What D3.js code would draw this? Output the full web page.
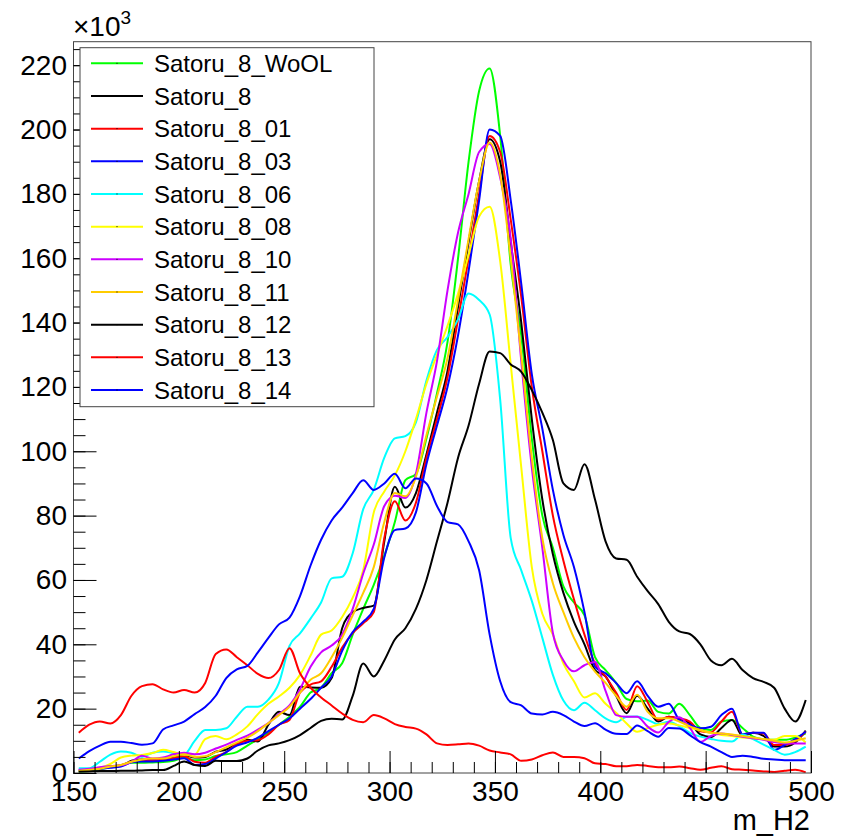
<!DOCTYPE html>
<html lang="en">
<head>
<meta charset="utf-8">
<title>m_H2 Satoru_8 variants</title>
<script src="https://cdn.jsdelivr.net/npm/d3@7"></script>
<style>
  body { margin: 0; background: #fff; }
  svg { display: block; font-family: "Liberation Sans", Arial, sans-serif; }
</style>
</head>
<body>
<svg width="850" height="838"></svg>
<script>
// bin centres of m_H2
var binCenters = [152.5,157.5,162.5,167.5,172.5,177.5,182.5,187.5,192.5,197.5,
  202.5,207.5,212.5,217.5,222.5,227.5,232.5,237.5,242.5,247.5,
  252.5,257.5,262.5,267.5,272.5,277.5,282.5,287.5,292.5,297.5,
  302.5,307.5,312.5,317.5,322.5,327.5,332.5,337.5,342.5,347.5,
  352.5,357.5,362.5,367.5,372.5,377.5,382.5,387.5,392.5,397.5,
  402.5,407.5,412.5,417.5,422.5,427.5,432.5,437.5,442.5,447.5,
  452.5,457.5,462.5,467.5,472.5,477.5,482.5,487.5,492.5,497.5];

var seriesNames = ["Satoru_8_WoOL","Satoru_8","Satoru_8_01","Satoru_8_03","Satoru_8_06",
  "Satoru_8_08","Satoru_8_10","Satoru_8_11","Satoru_8_12","Satoru_8_13","Satoru_8_14"];

// entries in units of 10^3
var wool = [0.3,0.6,1.2,1.8,2.4,3.2,3.2,3.3,3.4,3.8,
  4.8,4,4.2,5.3,5.8,6.5,8.5,10.5,12.5,15,
  17.5,20.6,25,26.5,31,34.1,43,51,58.5,67.5,
  78,91,93,104,118,134,160,190,212,219,
  198,158,136,104,80,70,58,53,49,36,
  32,28,23,22.3,22.5,19,18.5,21.5,18,14,
  13.4,16,16.5,14,11.3,10.5,10.3,10.3,11,12.3];
var s8 = [0.5,1,1.5,2,2.2,3.8,4.2,4,4.4,5,
  5.6,4.8,5,6.6,7.3,9,10.3,9.8,15,19,
  18,26.8,26.6,26.5,29.5,45,50,51.3,52,72,
  89,82.5,87,99,112,125,145,165,184,197,
  190,165,140,110,85,68,56,47,40,32,
  30,24,18.6,24,20,16,17.5,16.8,15.5,12,
  11.2,14,16.5,11.5,12.5,11.5,8.2,8.2,9.5,13.2];
var s8_01 = [1,1.2,1.6,2,2.4,3.5,4,4,4.2,4.6,
  5.2,3.5,3.2,5,6.5,9,10,10.2,12,15,
  16.5,25,27.5,28.5,33,39,43.5,46.5,50,73,
  84.5,78.5,84,98,110,123,141,160,180,198,
  193,172,148,120,100,80,66,54,43,34,
  30,25,19.6,27,22,16.5,17.5,17,16,13,
  12.7,16,19,12,12.5,12.3,8.7,8.7,10,12.8];
var s8_03 = [0.8,1,1.3,1.6,2,3.3,3.6,3.6,3.8,4.2,
  4.6,2.5,2.8,4.5,6.5,8.5,9.5,11,13,15,
  17,20,23,26.5,30,38,43.8,47,51,67,
  75.5,76,81,96,108,120,136,156,178,200,
  198,178,152,124,107,88,74,64,50,33,
  31,28,24.8,28.5,24,20.6,21.5,16.5,15,13.9,
  14.4,18,20,12,12.5,12.5,7.2,8.7,10.5,12.8];
var s8_06 = [1.5,1.5,3.5,5.7,6.7,6.3,5,6.3,6.7,6.2,
  5.8,10,13.4,13.4,13.9,17.5,20.6,20.6,22.8,28,
  39.5,43.4,48,53,60.5,61,68.3,82,88,98,
  104,104.7,109,122,131.5,135.5,141,149,147,142.5,
  116,73,63,53.5,42,30.5,22.5,19.5,21.8,19.5,
  17,15.8,17.5,17.6,16.5,15.2,15.9,14.5,12.5,11.3,
  10.6,10,9.8,12,10.5,8.8,7.2,5.7,6.5,8.2];
var s8_08 = [0.5,1,1.5,2.8,4.8,5.4,5.6,6.2,7.2,6.5,
  5.7,5.7,10.5,11.5,10.5,12,14.5,18.3,21.5,23.8,
  26.5,30.5,36.5,43,44.3,48.5,54.5,63,81,87.5,
  92.5,100,110,121,130,139,149,161,173,176,
  159,127,95,64,49.5,43,34,28.5,23.5,24.8,
  21.5,18.7,15.4,12.8,14,15,15.4,14.8,14,13.3,
  12.5,11.8,11.5,11,10.8,10.5,10.3,11.5,11.5,9.5];
var s8_10 = [1,1.3,1.8,2.2,2.4,3.5,5.4,4.5,4.8,5.8,
  6.3,5.8,6.3,7.6,8.8,10.3,11.6,13.5,15.5,18.3,
  21,26,33,37.5,39.6,43,51,62,71,83,
  86.2,85.5,93,112,128,150,168,180,193,195.5,
  185,166,128,95,70,43.5,35,31.6,33.5,34.5,
  25.5,18,17.5,17.5,14.4,12.6,15.9,17.3,14,9.7,
  11.5,12.3,11.8,11.3,10.8,10.3,9.6,9.2,9.2,9.2];
var s8_11 = [0.6,1,1.3,2,2.5,3.5,4.2,4.5,4.5,5.2,
  5.8,5,5.2,6.5,8,9.5,11,13,15.5,18,
  20.6,25,29,31,36,42,49,56,64,78,
  87,86,92,105,117,129,147,166,184,196,
  186,160,130,98,73,59,50,42,36,31.5,
  28,24,20.6,24.3,19,17,17,16,14.5,13.4,
  12.5,12.3,12,11.5,11,10.5,10,9.5,10,10.8];
var s8_12 = [0.4,0.5,0.6,0.6,0.7,0.7,0.8,0.9,0.9,2.2,
  3.6,2.5,2.2,3.8,3.7,3.7,4.5,7,8.6,9.2,
  10.2,11.8,14,16.2,16.9,16.6,24,34,30,35,
  41.5,45,51,60,72,84,98,108,121,131,
  130.5,127,124.7,119,112,103.5,90,88,96,85,
  72,66.7,66.3,61,56.5,52.5,47,44,43.2,40,
  35,33.5,35.5,32,29.5,28.3,26.5,20,16,22.7];
var s8_13 = [12.5,15,16,15.4,18,24,27,27.6,26,25,
  25.8,25,28,37,38.4,36,33.5,30.8,29.5,32,
  38.8,31,26.5,23.5,21,18.5,16.5,15.8,18,17,
  15.2,14.3,13.8,12,9.2,8.7,8.9,9.2,8.5,7,
  6.4,5.8,3.8,4.2,5.5,6.4,5,5,4.6,3,
  2.8,2.1,2.1,2.5,2.2,1.8,1.8,2,1.5,1,
  1.6,2.1,1.2,1,0.8,0.5,0.3,0.7,1,0.2];
var s8_14 = [4.5,6.8,8.5,9.7,9.7,9.3,8.8,9.2,13.5,14.8,
  16,18.3,20.5,24,29.5,32.2,33.3,37.5,42,46.2,
  48.3,55,64.5,72.5,78.5,82.5,87,91,88,90,
  93,88.5,91.5,90,83,78,77.3,72,63,43,
  28.5,22,21,18.5,18.2,19,18,16,14.6,15.5,
  13.5,12.2,12.1,14.8,13,11.3,14,13.8,11.8,9.6,
  8.2,6.5,5,5.4,5,4.4,4.2,4,4,4];

var seriesColors = ["#00ff00","#000000","#ff0000","#0000ff","#00ffff",
  "#ffff00","#cc00ff","#ffcc00","#000000","#ff0000","#0000ff"];

var allSeries = [wool, s8, s8_01, s8_03, s8_06, s8_08, s8_10, s8_11, s8_12, s8_13, s8_14];

var yTickLabels = [0,20,40,60,80,100,120,140,160,180,200,220];
var xTickLabels = [150,200,250,300,350,400,450,500];

var svg = d3.select("svg");
var frameLeft = 73.5, frameRight = 811, frameTop = 41.7, frameBottom = 773;

var xScale = d3.scaleLinear().domain([150, 500]).range([frameLeft, frameRight]);
var yScale = d3.scaleLinear().domain([0, 227.3]).range([frameBottom, frameTop]);

svg.append("defs").append("clipPath").attr("id", "frameClip")
  .append("rect")
  .attr("x", frameLeft).attr("y", frameTop)
  .attr("width", frameRight - frameLeft).attr("height", frameBottom - frameTop);

// curves
var line = d3.line()
  .x(function(d, i) { return xScale(binCenters[i]); })
  .y(function(d) { return yScale(d); })
  .curve(d3.curveMonotoneX);

var plot = svg.append("g").attr("clip-path", "url(#frameClip)");
allSeries.forEach(function(s, k) {
  plot.append("path")
    .attr("d", line(s))
    .attr("fill", "none")
    .attr("stroke", seriesColors[k])
    .attr("stroke-width", 2)
    .attr("stroke-linejoin", "round");
});

// frame
svg.append("rect")
  .attr("x", frameLeft).attr("y", frameTop)
  .attr("width", frameRight - frameLeft).attr("height", frameBottom - frameTop)
  .attr("fill", "none")
  .attr("stroke", "#444")
  .attr("stroke-width", 1);

// x axis
var xMajor = d3.axisBottom(xScale).tickValues(xTickLabels)
  .tickSize(-22).tickPadding(8).tickFormat(d3.format("d"));
var xMinor = d3.axisBottom(xScale).tickValues(d3.range(150, 501, 10))
  .tickSize(-11).tickFormat("");
svg.append("g").attr("transform", "translate(0," + frameBottom + ")").call(xMinor);
svg.append("g").attr("transform", "translate(0," + frameBottom + ")").call(xMajor);

// y axis
var yMajor = d3.axisLeft(yScale).tickValues(yTickLabels)
  .tickSize(-23).tickPadding(6.5).tickFormat(d3.format("d"));
var yMinor = d3.axisLeft(yScale).tickValues(d3.range(0, 226, 5))
  .tickSize(-12).tickFormat("");
svg.append("g").attr("transform", "translate(" + frameLeft + ",0)").call(yMinor);
svg.append("g").attr("transform", "translate(" + frameLeft + ",0)").call(yMajor);

svg.selectAll(".domain").remove();
svg.selectAll(".tick line").attr("stroke", "#000").attr("stroke-width", 1);
svg.selectAll(".tick text")
  .attr("font-size", "28px")
  .attr("font-family", "'Liberation Sans', Arial, sans-serif")
  .attr("fill", "#000");

// exponent label
var expo = svg.append("text")
  .attr("x", 73).attr("y", 35.5)
  .attr("font-size", "28px")
  .attr("fill", "#000")
  .text("\u00d710");
expo.append("tspan")
  .attr("dy", -12)
  .attr("font-size", "19px")
  .text("3");

// x title
svg.append("text")
  .attr("x", 810).attr("y", 830)
  .attr("text-anchor", "end")
  .attr("font-size", "29px")
  .attr("fill", "#000")
  .text("m_H2");

// legend
var legend = svg.append("g");
legend.append("rect")
  .attr("x", 80).attr("y", 47.7)
  .attr("width", 294).attr("height", 359)
  .attr("fill", "#fff")
  .attr("stroke", "#444")
  .attr("stroke-width", 1);

var rowY = d3.scaleLinear().domain([0, 10]).range([63.3, 390]);
seriesNames.forEach(function(name, k) {
  var yy = rowY(k);
  legend.append("line")
    .attr("x1", 91).attr("x2", 143)
    .attr("y1", yy).attr("y2", yy)
    .attr("stroke", seriesColors[k])
    .attr("stroke-width", 2);
  legend.append("rect")
    .attr("x", 116.5).attr("y", yy - 0.5)
    .attr("width", 1).attr("height", 1)
    .attr("fill", "#000");
  legend.append("text")
    .attr("x", 154).attr("y", yy)
    .attr("dy", "0.36em")
    .attr("font-size", "24px")
    .attr("fill", "#000")
    .text(name);
});
</script>
</body>
</html>
